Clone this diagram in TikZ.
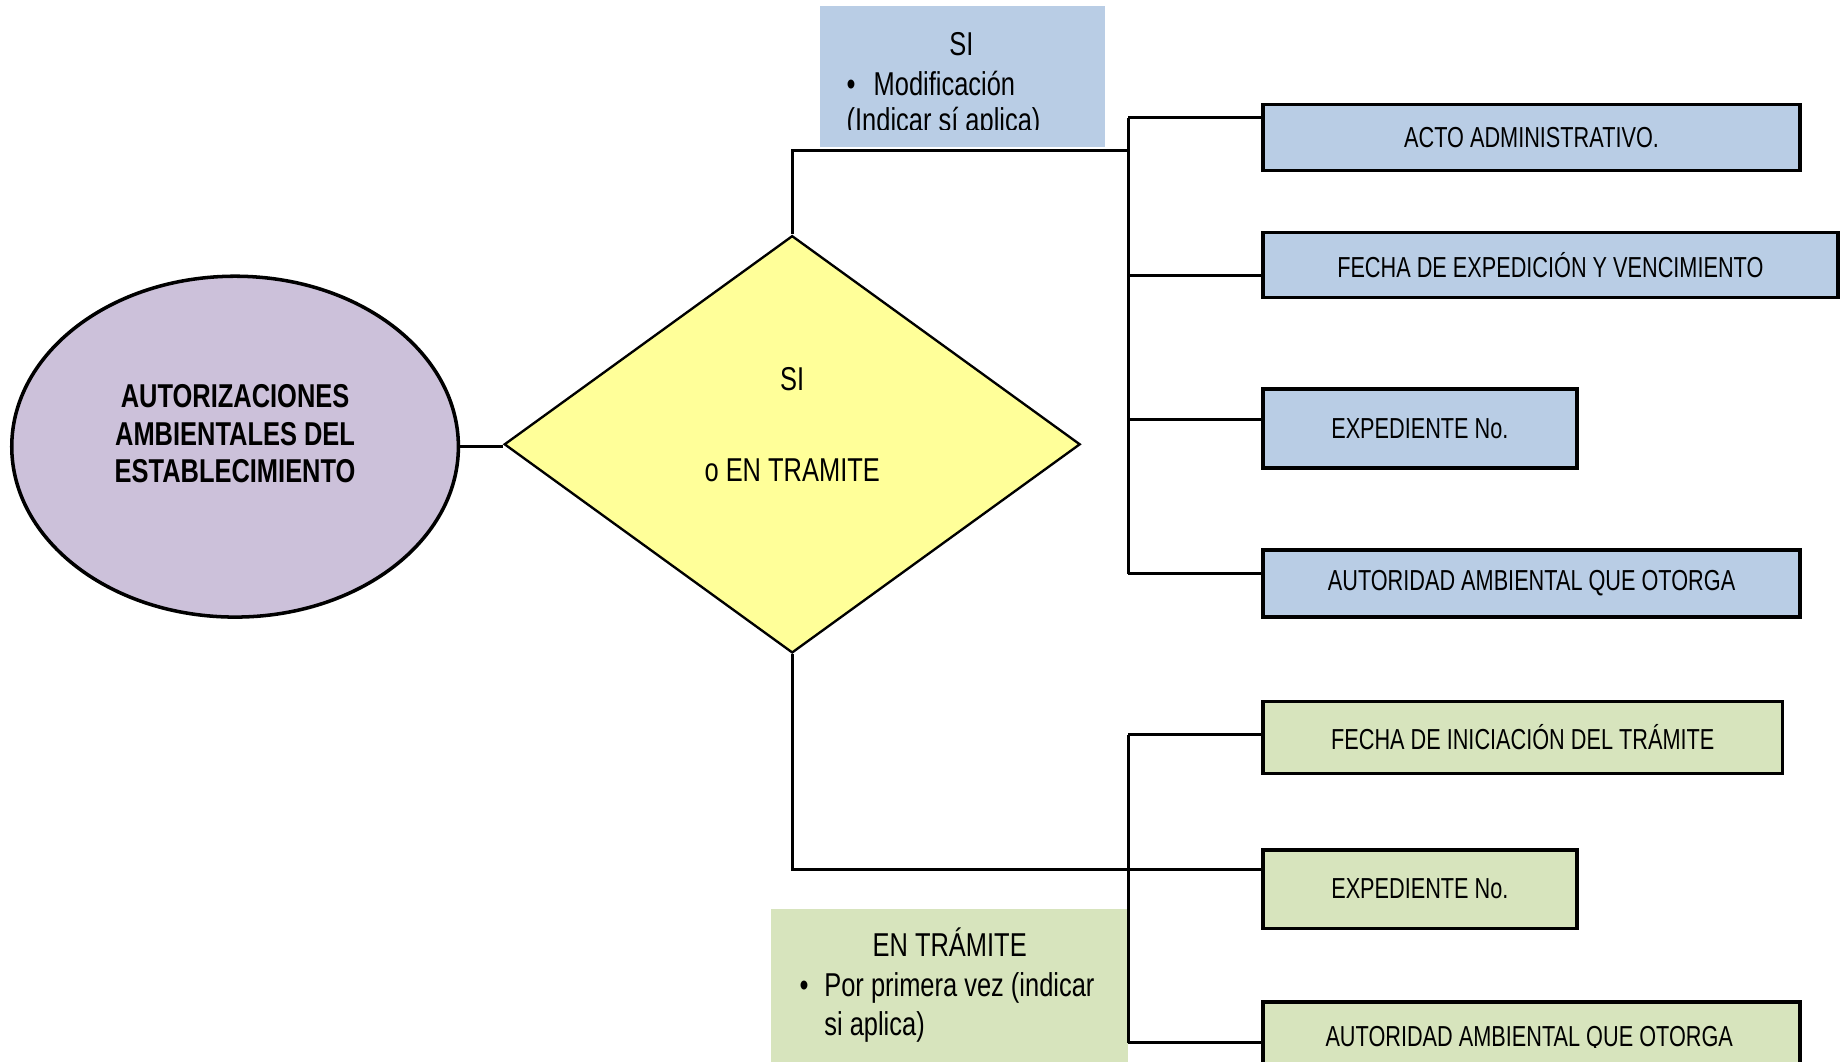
\documentclass[tikz,border=0pt]{standalone}
\usepackage{fontspec}
\setmainfont{Liberation Sans}[FakeStretch=0.77]
\newfontfamily\narrowfont{Liberation Sans}[FakeStretch=0.75]
\usetikzlibrary{shapes.geometric}
\definecolor{lila}{HTML}{CCC1DA}
\definecolor{amarillo}{HTML}{FFFF99}
\definecolor{azul}{HTML}{B9CDE5}
\definecolor{verde}{HTML}{D7E4BD}

\begin{document}
\begin{tikzpicture}[x=0.2mm, y=-0.2mm,
    conn/.style={line width=0.5mm},
    caja/.style={draw, line width=0.6mm, anchor=west, inner sep=0pt,
      font=\narrowfont\fontsize{14}{17}\selectfont},
    txt/.style={inner sep=0pt, font=\fontsize{16}{18.2}\selectfont}]
    \useasboundingbox (0,0) rectangle (1568,903);
    \clip (0,0) rectangle (1568,903);

    % elipse y rombo
    \node[ellipse, draw, line width=0.6mm, fill=lila,
      minimum width=76mm, minimum height=58mm] (auto) at (200,380) {};
    \node[txt, align=center, font=\bfseries\fontsize{16}{18.2}\selectfont]
      at (200,369) {AUTORIZACIONES\\AMBIENTALES DEL\\ESTABLECIMIENTO};
    \node[diamond, draw, line width=0.4mm, fill=amarillo, inner sep=0pt,
      minimum width=98mm, minimum height=71mm] (dia) at (674,378) {};
    \node[txt, anchor=base] at (674,332) {SI};
    \node[txt, anchor=base] at (674,410) {o EN TRAMITE};

    % cuadros de texto
    \node[fill=azul, inner sep=0pt, minimum width=48.4mm, minimum height=24mm] (si) at (819,65) {};
    \node[txt, anchor=base] at (818,47) {SI};
    \node[txt, anchor=base west] at (720,81) {\makebox[4.6mm][l]{\textbullet}Modificación};
    \begin{scope}
        \clip (698,5) rectangle (940,110);
        \node[txt, anchor=base west] at (720,112) {(Indicar sí aplica)};
    \end{scope}
    \node[fill=verde, inner sep=0pt, minimum width=60.8mm, minimum height=28mm] (tram) at (808,843) {};
    \node[txt, anchor=base] at (808,814) {EN TRÁMITE};
    \node[txt, anchor=base west] at (680,848) {\makebox[4.2mm][l]{\textbullet}Por primera vez (indicar};
    \node[txt, anchor=base west] at (701,881) {si aplica)};

    % cajas
    \node[caja, fill=azul, minimum width=91.4mm, minimum height=11.2mm] (acto) at (1073,117) {\raisebox{-0.4mm}{ACTO ADMINISTRATIVO.}};
    \node[caja, fill=azul, minimum width=97.8mm, minimum height=11mm] (fexp) at (1073,225.5) {\raisebox{-0.4mm}{FECHA DE EXPEDICIÓN Y VENCIMIENTO}};
    \node[caja, fill=azul, minimum width=53.4mm, minimum height=13.4mm] (exp) at (1073,364.5) {EXPEDIENTE No.};
    \node[caja, fill=azul, minimum width=91.4mm, minimum height=11.4mm] (aut) at (1073,496.5) {\raisebox{-0.4mm}{AUTORIDAD AMBIENTAL QUE OTORGA}};
    \node[caja, fill=verde, minimum width=88.4mm, minimum height=12.2mm] (finic) at (1073,627.5) {FECHA DE INICIACIÓN DEL TRÁMITE};
    \node[caja, fill=verde, minimum width=53.4mm, minimum height=13.4mm] (expt) at (1073,756.5) {EXPEDIENTE No.};
    \node[caja, fill=verde, minimum width=91.4mm, minimum height=11mm] (autt) at (1073,880) {};
    \begin{scope}
        \clip (1073,852) rectangle (1530,891);
        \node[caja, draw=none, anchor=center] at (1301,884) {AUTORIDAD AMBIENTAL QUE OTORGA};
    \end{scope}

    % conectores
    \coordinate (j1) at (960,128);
    \coordinate (b1) at (960,100);
    \coordinate (b2) at (960,234);
    \coordinate (b3) at (960,357);
    \coordinate (b4) at (960,488);
    \coordinate (k1) at (960,740);
    \coordinate (c1) at (960,625);
    \coordinate (c2) at (960,887);

    \draw[conn] (auto.east) -- (auto.east -| dia.west);
    \draw[conn] (dia.north) |- (j1);
    \draw[conn] (b1) -- (b4);
    \draw[conn] (b1) -- (b1 -| acto.west);
    \draw[conn] (b2) -- (b2 -| fexp.west);
    \draw[conn] (b3) -- (b3 -| exp.west);
    \draw[conn] (b4) -- (b4 -| aut.west);
    \draw[conn] (dia.south) |- (k1 -| expt.west);
    \draw[conn] (c1) -- (c2);
    \draw[conn] (c1) -- (c1 -| finic.west);
    \draw[conn] (c2) -- (c2 -| autt.west);
\end{tikzpicture}
\end{document}
